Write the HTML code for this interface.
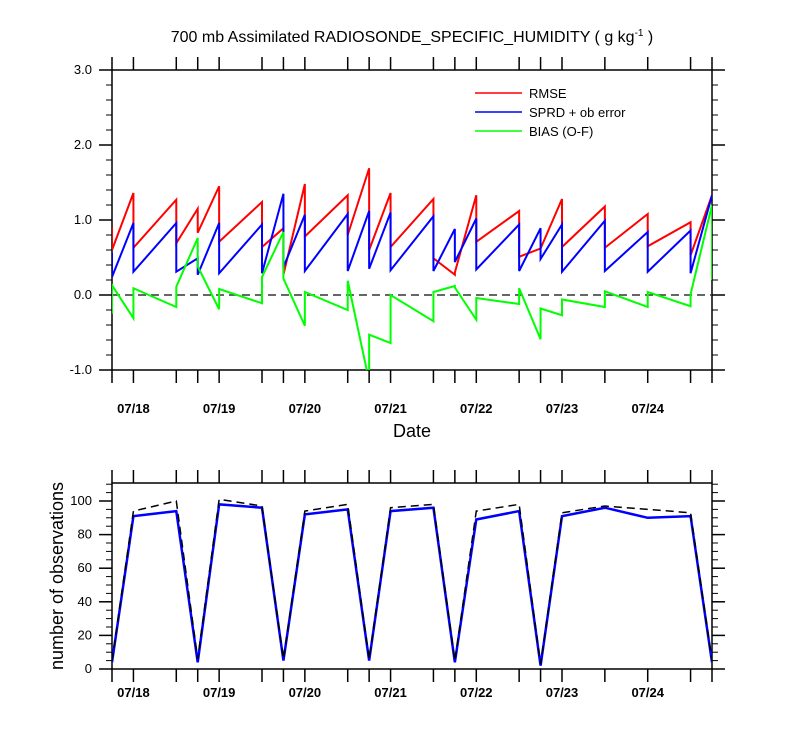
<!DOCTYPE html>
<html><head><meta charset="utf-8"><style>
body{margin:0;background:#fff}
svg text{font-family:"Liberation Sans",sans-serif}
</style></head><body>
<svg id="c" width="800" height="750" xmlns="http://www.w3.org/2000/svg">
<defs><clipPath id="clipTop"><rect x="112" y="70" width="600" height="300"/></clipPath>
<clipPath id="clipBot"><rect x="112" y="483" width="600" height="186"/></clipPath></defs>
<text x="412" y="42" text-anchor="middle" font-size="16">700 mb Assimilated RADIOSONDE_SPECIFIC_HUMIDITY ( g kg<tspan dy="-6" font-size="10">-1</tspan><tspan dy="6"> )</tspan></text>
<g id="topPanel"></g>
<g id="botPanel"></g>
<text x="412" y="437" text-anchor="middle" font-size="18">Date</text>
<text transform="translate(63,576) rotate(-90)" text-anchor="middle" font-size="18">number of observations</text>
<g>
<line x1="475" y1="93" x2="522" y2="93" stroke="#f00" stroke-width="1.6"/>
<text x="529" y="98" font-size="13">RMSE</text>
<line x1="475" y1="112" x2="522" y2="112" stroke="#00f" stroke-width="1.6"/>
<text x="529" y="117" font-size="13">SPRD + ob error</text>
<line x1="475" y1="131" x2="522" y2="131" stroke="#0f0" stroke-width="1.6"/>
<text x="529" y="136" font-size="13">BIAS (O-F)</text>
</g>
</svg>
<script>
// hours relative to 07/18 00Z
const times = [-6,0,12,18,24,36,42,48,60,66,72,84,90,96,108,114,120,132,144,156,162];
const rmseIn  = [0.91,1.36,1.27,1.15,1.45,1.24,0.89,1.48,1.33,1.69,1.36,1.28,0.27,1.33,1.12,0.62,1.28,1.18,1.08,0.97,1.33];
const rmseOut = [0.60,0.63,0.69,0.83,0.71,0.64,0.27,0.78,0.80,0.60,0.64,0.49,0.30,0.71,0.51,0.62,0.64,0.63,0.65,0.53,1.33];
const sprdIn  = [0.56,0.96,0.96,0.49,0.96,0.94,1.35,1.07,1.08,1.12,1.10,1.05,0.88,1.02,0.94,0.89,0.94,0.99,0.84,0.86,1.33];
const sprdOut = [0.24,0.31,0.31,0.27,0.29,0.29,0.37,0.32,0.32,0.35,0.33,0.32,0.44,0.34,0.32,0.48,0.31,0.32,0.31,0.29,1.33];
const biasIn  = [-0.25,-0.31,-0.16,0.76,-0.19,-0.11,0.84,-0.41,-0.20,-1.15,-0.64,-0.35,0.12,-0.33,-0.12,-0.59,-0.27,-0.16,-0.16,-0.15,1.20];
const biasOut = [0.13,0.09,0.11,0.38,0.08,0.24,0.22,0.04,0.19,-0.53,0.00,0.04,0.10,-0.04,0.09,-0.18,-0.06,0.05,0.04,0.01,0.20];
const obsUsed = [4,91,94,4,98,96,5,92,95,5,94,96,4,89,94,2,91,96,90,91,4];
const obsPossible = [5,94,100,6,101,97,6,94,98,6,96,98,5,94,98,3,93,97,95,93,5];
const dayLabels = ["07/18","07/19","07/20","07/21","07/22","07/23","07/24"];
const topTicks = [-1,0,1,2,3];
const botTicks = [0,20,40,60,80,100];

const NS="http://www.w3.org/2000/svg";
const X0=112,X1=712,T0=-6,T1=162;
const xs=t=>X0+(t-T0)/(T1-T0)*(X1-X0);
const yTop=v=>295-v*75;
const yBot=v=>669-v*1.68;
function mk(tag,attrs,parent){const e=document.createElementNS(NS,tag);for(const k in attrs)e.setAttribute(k,attrs[k]);parent.appendChild(e);return e;}
const topG=document.getElementById('topPanel'),botG=document.getElementById('botPanel');

function frame(g,yt,yb,yfun,maj,minStep,minMax,minMin,fmt,lblY,pre){
  const r=mk('rect',{x:X0,y:yt,width:X1-X0,height:yb-yt,fill:'none',stroke:'#000','stroke-width':1.5},g);
  
  
  times.forEach(t=>{
    const x=xs(t);
    const a=mk('line',{x1:x,y1:yt,x2:x,y2:yt-13,stroke:'#000','stroke-width':1.5},g);
    
    
    const b=mk('line',{x1:x,y1:yb,x2:x,y2:yb+13,stroke:'#000','stroke-width':1.5},g);
    
    
  });
  dayLabels.forEach((d,i)=>{
    const t=mk('text',{x:xs(i*24),y:lblY,'text-anchor':'middle','font-size':13,'font-weight':'bold'},g);
    t.textContent=d;
    
    
  });
  for(let v=minMin;v<=minMax+1e-9;v+=minStep){
    const y=yfun(v);
    [[X0,X0-6],[X1,X1+6]].forEach(([a,b])=>{
      const l=mk('line',{x1:a,y1:y,x2:b,y2:y,stroke:'#000','stroke-width':1},g);
      
      
    });
  }
  maj.forEach(v=>{
    const y=yfun(v);
    [[X0,X0-13],[X1,X1+13]].forEach(([a,b])=>{
      const l=mk('line',{x1:a,y1:y,x2:b,y2:y,stroke:'#000','stroke-width':1.5},g);
      
      
    });
    const t=mk('text',{x:92,y:y+4,'text-anchor':'end','font-size':13},g);
    t.textContent=fmt(v);
    
    
  });
}
frame(topG,70,370,yTop,topTicks,0.2,3,-1,v=>v.toFixed(1),413,'top');
frame(botG,483,669,yBot,botTicks,5,110,0,v=>String(v),697,'bottom');

const z=mk('line',{x1:X0,y1:yTop(0),x2:X1,y2:yTop(0),stroke:'#333','stroke-width':1.5,'stroke-dasharray':'8,5'},topG);



function saw(inA,outA){let p=[];times.forEach((t,i)=>{p.push(xs(t)+','+yTop(inA[i]));p.push(xs(t)+','+yTop(outA[i]));});return p.join(' ');}
const gT=mk('g',{'clip-path':'url(#clipTop)'},topG);
const s1=mk('polyline',{points:saw(rmseIn,rmseOut),fill:'none',stroke:'#f00','stroke-width':2},gT);


const s2=mk('polyline',{points:saw(sprdIn,sprdOut),fill:'none',stroke:'#00f','stroke-width':2},gT);


const s3=mk('polyline',{points:saw(biasIn,biasOut),fill:'none',stroke:'#0f0','stroke-width':2},gT);



const gB=mk('g',{'clip-path':'url(#clipBot)'},botG);
const b1=mk('polyline',{points:times.map((t,i)=>xs(t)+','+yBot(obsUsed[i])).join(' '),fill:'none',stroke:'#00f','stroke-width':2.5},gB);


const b2=mk('polyline',{points:times.map((t,i)=>xs(t)+','+yBot(obsPossible[i])).join(' '),fill:'none',stroke:'#000','stroke-width':1.5,'stroke-dasharray':'8,5'},gB);


</script>
</body></html>
